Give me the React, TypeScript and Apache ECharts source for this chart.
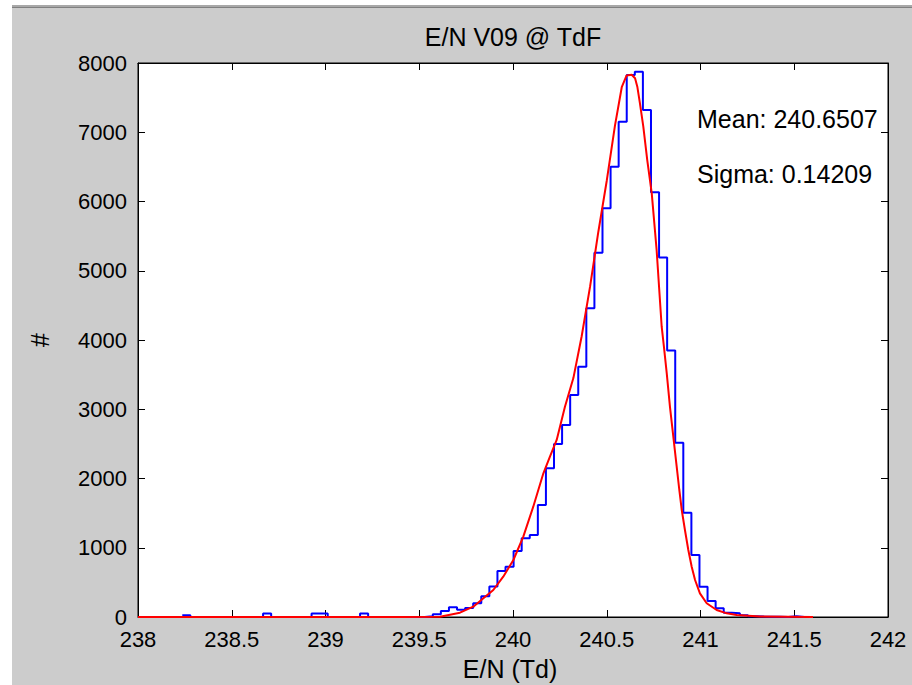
import React, { useEffect, useRef } from "react";
import * as echarts from "echarts";

// ---- data ----
const titleText = "E/N V09 @ TdF";
const xAxisTitle = "E/N (Td)";
const yAxisTitle = "#";
const meanText = "Mean: 240.6507";
const sigmaText = "Sigma: 0.14209";

const xMin = 238;
const xMax = 242;
const xStep = 0.5;
const yMin = 0;
const yMax = 8000;
const yStep = 1000;

// histogram bins: first left edge and bin width (E/N units)
const binStart = 238.2361;
const binWidth = 0.0431;
// counts per bin, starting at binStart
const binCounts = [
  25, 0, 0, 0, 0, 0, 0, 0, 0, 0,
  50, 0, 0, 0, 0, 0, 50, 50, 0, 0,
  0, 0, 50, 0, 0, 0, 0, 0, 0, 0,
  10, 40, 85, 140, 105, 130, 200, 300, 440, 664,
  727, 953, 1136, 1184, 1617, 2147, 2500, 2773, 3206, 3614,
  4458, 5261, 5901, 6503, 7153, 7827, 7875, 7321, 6134, 5190,
  3850, 2517, 1506, 895, 438, 231, 125, 62, 55, 25,
  12, 6, 3, 2, 0, 10, 0,
];

// fitted curve
const fitX = [
  238.0, 239.0, 239.4, 239.611, 239.717, 239.788, 239.842, 239.895, 239.948, 240.002,
  240.055, 240.108, 240.162, 240.197, 240.233, 240.277, 240.322, 240.366, 240.411, 240.455,
  240.5, 240.544, 240.58, 240.606, 240.633, 240.651, 240.663, 240.677, 240.695, 240.716,
  240.74, 240.766, 240.793, 240.805, 240.82, 240.837, 240.855, 240.873, 240.887, 240.9,
  240.917, 240.935, 240.953, 240.971, 240.997, 241.033, 241.086, 241.14, 241.193, 241.317,
  241.6,
];
const fitY = [
  0, 0, 1, 5, 62, 149, 270, 390, 582, 823,
  1160, 1593, 2075, 2315, 2556, 3037, 3450, 4050, 4770, 5560,
  6300, 7100, 7650, 7820, 7830, 7779, 7658, 7418, 7081, 6599,
  6118, 5300, 4192, 3900, 3519, 3037, 2604, 2170, 1834, 1545,
  1256, 968, 726, 534, 342, 198, 101, 53, 29, 8,
  0,
];

const FONT = "'Liberation Sans', Arial, sans-serif";
const FS_TICK = 22;
const FS_TEXT = 25;

export default function App() {
  const ref = useRef<HTMLDivElement>(null);

  useEffect(() => {
    const chart = echarts.init(ref.current!, null, { renderer: "svg" });

    const stairs: number[][] = [];
    binCounts.forEach((c, i) => {
      const l = binStart + i * binWidth;
      stairs.push([l, c]);
      stairs.push([l + binWidth, c]);
    });
    const fit = fitX.map((x, i) => [x, fitY[i]]);

    const baseX = {
      type: "value",
      min: xMin,
      max: xMax,
      interval: xStep,
      splitLine: { show: false },
      axisLine: { show: true, onZero: false, lineStyle: { color: "#000", width: 1 } },
      axisTick: { show: true, inside: true, length: 7, lineStyle: { color: "#000" } },
    };
    const baseY = {
      type: "value",
      min: yMin,
      max: yMax,
      interval: yStep,
      splitLine: { show: false },
      axisLine: { show: true, onZero: false, lineStyle: { color: "#000", width: 1 } },
      axisTick: { show: true, inside: true, length: 7, lineStyle: { color: "#000" } },
    };

    chart.setOption({
      animation: false,
      backgroundColor: "#cccccc",
      grid: {
        left: 138,
        top: 63,
        width: 750,
        height: 554,
        show: true,
        backgroundColor: "#ffffff",
        borderColor: "#000",
        borderWidth: 1,
      },
      xAxis: [
        {
          ...baseX,
          position: "bottom",
          axisLabel: {
            show: true,
            color: "#000",
            fontSize: FS_TICK,
            fontFamily: FONT,
            margin: 13,
            lineHeight: 18,
            formatter: (v: number) => String(v),
          },
        },
        { ...baseX, position: "top", axisLabel: { show: false } },
      ],
      yAxis: [
        {
          ...baseY,
          position: "left",
          axisLabel: {
            show: true,
            color: "#000",
            fontSize: FS_TICK,
            fontFamily: FONT,
            margin: 11,
            lineHeight: 18,
            formatter: (v: number) => String(v),
          },
        },
        { ...baseY, position: "right", axisLabel: { show: false } },
      ],
      series: [
        {
          type: "line",
          data: stairs,
          showSymbol: false,
          symbol: "none",
          lineStyle: { color: "#0000ff", width: 2 },
          xAxisIndex: 0,
          yAxisIndex: 0,
          z: 2,
        },
        {
          type: "line",
          data: fit,
          showSymbol: false,
          symbol: "none",
          lineStyle: { color: "#ff0000", width: 2 },
          xAxisIndex: 0,
          yAxisIndex: 0,
          z: 3,
        },
      ],
      graphic: [
        { type: "rect", shape: { x: 0, y: 0, width: 12, height: 685 }, style: { fill: "#ffffff" }, silent: true },
        { type: "rect", shape: { x: 0, y: 0, width: 912, height: 5 }, style: { fill: "#ffffff" }, silent: true },
        { type: "rect", shape: { x: 12, y: 5, width: 900, height: 2 }, style: { fill: "#a8a8a8" }, silent: true },
        { type: "rect", shape: { x: 12, y: 7, width: 900, height: 1 }, style: { fill: "#808080" }, silent: true },
        {
          type: "text",
          x: 513,
          y: 37,
          style: { text: titleText, fill: "#000", font: `${FS_TEXT}px ${FONT}`, align: "center", verticalAlign: "middle" },
        },
        {
          type: "text",
          x: 510,
          y: 669,
          style: { text: xAxisTitle, fill: "#000", font: `${FS_TEXT}px ${FONT}`, align: "center", verticalAlign: "middle" },
        },
        {
          type: "text",
          x: 40,
          y: 340,
          rotation: Math.PI / 2,
          style: { text: yAxisTitle, fill: "#000", font: `${FS_TEXT}px ${FONT}`, align: "center", verticalAlign: "middle" },
        },
        {
          type: "text",
          x: 697,
          y: 119,
          style: { text: meanText, fill: "#000", font: `${FS_TEXT}px ${FONT}`, align: "left", verticalAlign: "middle" },
        },
        {
          type: "text",
          x: 697,
          y: 174,
          style: { text: sigmaText, fill: "#000", font: `${FS_TEXT}px ${FONT}`, align: "left", verticalAlign: "middle" },
        },
      ],
    });

    return () => chart.dispose();
  }, []);

  return (
    <div
      ref={ref}
      style={{ position: "absolute", left: 0, top: 0, width: 912, height: 685 }}
    />
  );
}
